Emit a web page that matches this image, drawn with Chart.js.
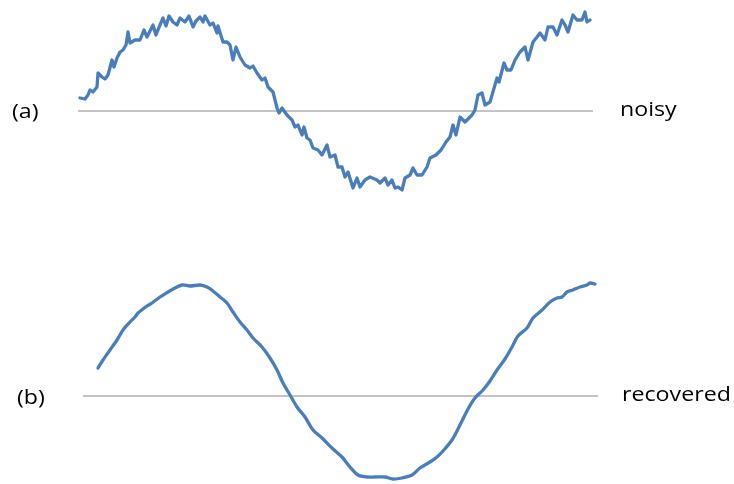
<!DOCTYPE html>
<html>
<head>
<meta charset="utf-8">
<script src="https://cdn.jsdelivr.net/npm/chart.js@4"></script>
<style>
  html, body { margin: 0; padding: 0; background: #fff; }
  #wrap { position: relative; width: 734px; height: 484px; overflow: hidden; }
  .panel { position: absolute; left: 0; width: 734px; height: 242px; }
  .lbl { position: absolute; font-family: "Open Sans", sans-serif; font-size: 20px; line-height: 20px;
         color: #000; white-space: nowrap; transform: scaleX(1.16); transform-origin: 0 0; }
</style>
</head>
<body>
<div id="wrap">
  <div class="panel" style="top:0"><canvas id="cA" width="734" height="242"></canvas></div>
  <div class="panel" style="top:242px"><canvas id="cB" width="734" height="242"></canvas></div>
  <div class="lbl" style="left:12px; top:101px">(a)</div>
  <div class="lbl" style="left:620px; top:99px">noisy</div>
  <div class="lbl" style="left:17px; top:387px">(b)</div>
  <div class="lbl" style="left:622px; top:384px">recovered</div>
</div>
<script>
// ---- data (time t, signal value v; 0 = baseline) ----
const noisyT = [2,7,10,12,15,19,20,24,27,30,
  34,36,39,42,45,48,50,52,57,62,
  66,69,75,78,82,85,88,91,95,99,
  102,107,111,115,118,122,125,127,132,135,
  139,140,145,149,152,155,158,162,167,172,
  175,179,184,187,190,195,199,201,204,209,
  214,217,220,224,226,229,232,235,240,244,
  249,252,257,260,264,267,270,275,279,282,
  287,292,299,302,307,310,314,317,320,324,
  327,332,335,339,344,349,352,358,363,368,
  372,375,378,382,387,394,397,400,404,407,
  412,419,421,426,429,433,437,442,447,450,
  455,459,462,467,470,475,479,484,487,490,
  495,499,504,507,509,512];
const noisyV = [0.13,0.12,0.16,0.21,0.19,0.24,0.38,0.34,0.32,0.36,
  0.51,0.44,0.53,0.59,0.61,0.66,0.79,0.68,0.71,0.71,
  0.81,0.74,0.86,0.76,0.86,0.93,0.85,0.95,0.89,0.86,
  0.93,0.89,0.95,0.84,0.90,0.94,0.89,0.95,0.86,0.88,
  0.78,0.85,0.69,0.69,0.66,0.51,0.64,0.54,0.46,0.43,
  0.45,0.38,0.31,0.33,0.24,0.19,0.03,-0.02,0.03,-0.04,
  -0.09,-0.16,-0.14,-0.24,-0.16,-0.27,-0.29,-0.37,-0.39,-0.44,
  -0.34,-0.46,-0.44,-0.56,-0.56,-0.66,-0.61,-0.77,-0.67,-0.76,
  -0.69,-0.66,-0.69,-0.72,-0.67,-0.74,-0.69,-0.77,-0.76,-0.79,
  -0.67,-0.64,-0.57,-0.64,-0.64,-0.56,-0.47,-0.44,-0.39,-0.31,
  -0.26,-0.14,-0.24,-0.06,-0.11,-0.04,0.01,0.16,0.18,0.06,
  0.09,0.33,0.29,0.48,0.41,0.41,0.51,0.59,0.64,0.51,
  0.69,0.74,0.78,0.71,0.84,0.84,0.76,0.91,0.86,0.79,
  0.96,0.91,0.91,0.99,0.89,0.91];

const recoveredT = [20,25,32,39,45,52,57,60,69,74,
  82,90,97,104,112,122,129,135,142,149,
  155,162,169,175,184,192,199,205,212,219,
  227,235,244,254,264,272,280,289,297,307,
  315,324,334,342,352,359,365,374,382,390,
  397,405,412,419,427,434,440,449,455,464,
  472,479,484,489,495,502,509,512,517];
const recoveredV = [0.28,0.36,0.46,0.56,0.66,0.74,0.79,0.83,0.90,0.93,
  0.99,1.04,1.08,1.11,1.10,1.11,1.09,1.05,0.99,0.93,
  0.84,0.74,0.66,0.58,0.49,0.38,0.26,0.13,0.01,-0.11,
  -0.21,-0.34,-0.42,-0.52,-0.61,-0.71,-0.79,-0.81,-0.81,-0.81,
  -0.83,-0.82,-0.79,-0.72,-0.66,-0.61,-0.55,-0.44,-0.29,-0.13,
  -0.02,0.06,0.15,0.26,0.37,0.49,0.60,0.68,0.78,0.86,
  0.94,0.98,0.99,1.04,1.06,1.09,1.11,1.13,1.12];

const baselineA = [0, 515];   // extent of the zero line, panel (a)
const baselineB = [5, 520];   // extent of the zero line, panel (b)

// ---- helpers ----
const zip = (ts, vs) => ts.map((t, i) => ({ x: t, y: vs[i] }));
const flat = (ts) => ts.map(t => ({ x: t, y: 0 }));

const LINE_COLOR = '#4a7ebb';
const AXIS_COLOR = '#8a8a8a';

function makeChart(id, series, baseline, yMin, yMax, tension) {
  return new Chart(document.getElementById(id), {
    type: 'line',
    data: {
      datasets: [
        { data: flat(baseline), borderColor: AXIS_COLOR, borderWidth: 1.2, pointRadius: 0, tension: 0, order: 2 },
        { data: series, borderColor: LINE_COLOR, borderWidth: 3.3, pointRadius: 0, tension: tension,
          borderJoinStyle: 'round', borderCapStyle: 'round', order: 1 }
      ]
    },
    options: {
      responsive: false,
      devicePixelRatio: 1,
      animation: false,
      layout: { padding: 0 },
      plugins: { legend: { display: false }, tooltip: { enabled: false } },
      scales: {
        x: { type: 'linear', display: false, min: -78, max: 656 },
        y: { type: 'linear', display: false, min: yMin, max: yMax }
      }
    }
  });
}

makeChart('cA', zip(noisyT, noisyV), baselineA, -1.31, 1.11, 0);
makeChart('cB', zip(recoveredT, recoveredV), baselineB, -0.88, 1.54, 0.3);
</script>
</body>
</html>
